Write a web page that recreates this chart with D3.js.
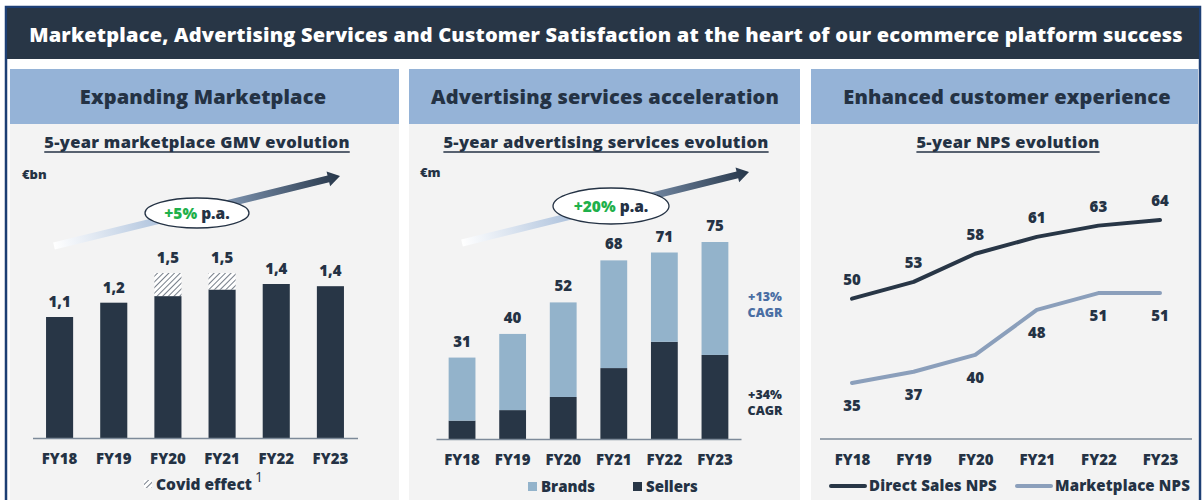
<!DOCTYPE html>
<html>
<head>
<meta charset="utf-8">
<script src="https://cdn.jsdelivr.net/npm/d3@7"></script>
<style>
  body { margin: 0; background: #fff; }
  text { font-family: "Open Sans", sans-serif; font-weight: 800; fill: #243244; }
</style>
</head>
<body>
<div id="chart"></div>
<script>
// data
var years = ["FY18", "FY19", "FY20", "FY21", "FY22", "FY23"];

var gmv = [1.1, 1.23, 1.29, 1.35, 1.40, 1.38];
var covid = [0, 0, 0.21, 0.15, 0, 0];
var gmvLabels = ["1,1", "1,2", "1,5", "1,5", "1,4", "1,4"];

var sellers = [7, 11, 16, 27, 37, 32];
var brands = [24, 29, 36, 41, 34, 43];
var adTotals = [31, 40, 52, 68, 71, 75];

var directNps = [50, 53, 58, 61, 63, 64];
var marketNps = [35, 37, 40, 48, 51, 51];

var navy = "#283646", lightBar = "#93b3cb", header = "#95b3d7", body = "#f3f3f3";

var W = 1203, H = 500;
var svg = d3.select("#chart").append("svg")
    .attr("width", W)
    .attr("height", H);

var defs = svg.append("defs");

// hatch for covid effect
var pat = defs.append("pattern")
    .attr("id", "hatch")
    .attr("patternUnits", "userSpaceOnUse")
    .attr("width", 4).attr("height", 4)
    .attr("patternTransform", "rotate(45)");
pat.append("rect").attr("width", 4).attr("height", 4).attr("fill", "#fff");
pat.append("line").attr("x1", 0).attr("y1", 0).attr("x2", 0).attr("y2", 4)
    .attr("stroke", "#3a4656").attr("stroke-width", 1.4);

// arrow gradient
var grad = defs.append("linearGradient").attr("id", "arrowGrad");
grad.append("stop").attr("offset", "0%").attr("stop-color", "#ffffff");
grad.append("stop").attr("offset", "45%").attr("stop-color", "#9fb7d6");
grad.append("stop").attr("offset", "100%").attr("stop-color", "#27374a");

// outer frame + title bar
svg.append("rect")
    .attr("x", 6).attr("y", 7).attr("width", 1194).attr("height", 500)
    .attr("fill", "#fff").attr("stroke", "#1d3f74").attr("stroke-width", 2.5);
svg.append("rect")
    .attr("x", 7).attr("y", 8).attr("width", 1192).attr("height", 51)
    .attr("fill", navy);
svg.append("text")
    .attr("x", 606).attr("y", 42)
    .attr("text-anchor", "middle")
    .style("fill", "#fff").style("font-size", "20px").style("letter-spacing", "0.2px")
    .text("Marketplace, Advertising Services and Customer Satisfaction at the heart of our ecommerce platform success");

// panels
var panels = [
  {x: 10, w: 389, title: "Expanding Marketplace", sub: "5-year marketplace GMV evolution", cx: 203, scx: 197},
  {x: 409, w: 391, title: "Advertising services acceleration", sub: "5-year advertising services evolution", cx: 605, scx: 606},
  {x: 811, w: 387, title: "Enhanced customer experience", sub: "5-year NPS evolution", cx: 1007, scx: 1008}
];

panels.forEach(function(p) {
  svg.append("rect").attr("x", p.x).attr("y", 124).attr("width", p.w).attr("height", 376).attr("fill", body);
  svg.append("rect").attr("x", p.x).attr("y", 69).attr("width", p.w).attr("height", 55).attr("fill", header);
  svg.append("text")
      .attr("x", p.cx).attr("y", 104)
      .attr("text-anchor", "middle")
      .style("font-size", "20px").style("letter-spacing", "0.15px")
      .text(p.title);
  var st = svg.append("text")
      .attr("x", p.scx).attr("y", 148)
      .attr("text-anchor", "middle")
      .style("font-size", "16.5px").style("letter-spacing", "0.3px")
      .text(p.sub);
  var bb = st.node().getBBox();
  svg.append("line")
      .attr("x1", bb.x).attr("x2", bb.x + bb.width)
      .attr("y1", 152).attr("y2", 152)
      .attr("stroke", "#243244").attr("stroke-width", 1.3);
});

// growth arrow with ellipse badge
function growthArrow(x1, y1, x2, y2, ex, ey, rx, ry, pct) {
  var ang = Math.atan2(y2 - y1, x2 - x1);
  var len = Math.hypot(x2 - x1, y2 - y1);
  var g = svg.append("g")
      .attr("transform", "translate(" + x1 + "," + y1 + ") rotate(" + (ang * 180 / Math.PI) + ")");
  g.append("path")
      .attr("d", "M0,-3.5 L" + (len - 12) + ",-3.5 L" + (len - 12) + ",-7.5 L" + len + ",0 L" +
        (len - 12) + ",7.5 L" + (len - 12) + ",3.5 L0,3.5 Z")
      .attr("fill", "url(#arrowGrad)");
  svg.append("ellipse")
      .attr("cx", ex).attr("cy", ey).attr("rx", rx).attr("ry", ry)
      .attr("fill", "#fff").attr("stroke", "#243244").attr("stroke-width", 1.3);
  var t = svg.append("text")
      .attr("x", ex).attr("y", ey + 5.5)
      .attr("text-anchor", "middle")
      .style("font-size", "15.5px");
  t.append("tspan").style("fill", "#1fb04b").text(pct);
  t.append("tspan").text(" p.a.");
}

// ---------- Panel 1 : GMV ----------
svg.append("text").attr("x", 22).attr("y", 179).style("font-size", "13px").text("€bn");
growthArrow(54, 246, 340, 176, 197, 213, 52, 15, "+5%");

var x1 = d3.scaleBand().domain(years).range([32.5, 357.5]).paddingInner(0.5).paddingOuter(0.25);
var y1 = d3.scaleLinear().domain([0, 1.5]).range([438, 273]);

svg.append("g").selectAll("rect.gmv")
  .data(years)
  .join("rect")
    .attr("x", function(d) { return x1(d); })
    .attr("width", x1.bandwidth())
    .attr("y", function(d, i) { return y1(gmv[i]); })
    .attr("height", function(d, i) { return y1(0) - y1(gmv[i]); })
    .attr("fill", navy);

svg.append("g").selectAll("rect.covid")
  .data(years.filter(function(d, i) { return covid[i] > 0; }))
  .join("rect")
    .attr("x", function(d) { return x1(d); })
    .attr("width", x1.bandwidth())
    .attr("y", function(d) { var i = years.indexOf(d); return y1(gmv[i] + covid[i]); })
    .attr("height", function(d) { var i = years.indexOf(d); return y1(gmv[i]) - y1(gmv[i] + covid[i]); })
    .attr("fill", "url(#hatch)");

svg.append("g").selectAll("text")
  .data(years)
  .join("text")
    .attr("x", function(d) { return x1(d) + x1.bandwidth() / 2; })
    .attr("y", function(d, i) { return y1(gmv[i] + covid[i]) - 10; })
    .attr("text-anchor", "middle")
    .style("font-size", "15px")
    .text(function(d, i) { return gmvLabels[i]; });

var ax1 = svg.append("g")
    .attr("transform", "translate(0,438)")
    .call(d3.axisBottom(x1).tickSize(0).tickPadding(15));
ax1.select(".domain").attr("stroke", "#7d8a99").attr("stroke-width", 1.5);
ax1.selectAll("text").style("font-size", "15px").style("font-family", "Open Sans").style("font-weight", 800).attr("fill", "#243244");

// covid legend
svg.append("rect").attr("x", 144).attr("y", 480).attr("width", 8).attr("height", 8).attr("fill", "url(#hatch)");
svg.append("text").attr("x", 156).attr("y", 490).style("font-size", "15.5px").text("Covid effect");
svg.append("text").attr("x", 255).attr("y", 482).style("font-size", "14px").style("font-weight", 400).text("1");

// ---------- Panel 2 : advertising ----------
svg.append("text").attr("x", 420).attr("y", 177).style("font-size", "13px").text("€m");
growthArrow(462, 243, 749, 172, 611, 206, 58, 18, "+20%");

var x2 = d3.scaleBand().domain(years).range([436, 741]).paddingInner(0.47).paddingOuter(0.25);
var y2 = d3.scaleLinear().domain([0, 75]).range([439, 242]);

var stackData = years.map(function(d, i) { return {year: d, Sellers: sellers[i], Brands: brands[i]}; });
var stacked = d3.stack().keys(["Sellers", "Brands"])(stackData);
var stackColor = {Sellers: navy, Brands: lightBar};

svg.append("g").selectAll("g")
  .data(stacked)
  .join("g")
    .attr("fill", function(s) { return stackColor[s.key]; })
  .selectAll("rect")
  .data(function(s) { return s; })
  .join("rect")
    .attr("x", function(d) { return x2(d.data.year); })
    .attr("width", x2.bandwidth())
    .attr("y", function(d) { return y2(d[1]); })
    .attr("height", function(d) { return y2(d[0]) - y2(d[1]); });

svg.append("g").selectAll("text")
  .data(years)
  .join("text")
    .attr("x", function(d) { return x2(d) + x2.bandwidth() / 2; })
    .attr("y", function(d, i) { return y2(adTotals[i]) - 11; })
    .attr("text-anchor", "middle")
    .style("font-size", "15px")
    .text(function(d, i) { return adTotals[i]; });

var ax2 = svg.append("g")
    .attr("transform", "translate(0,439)")
    .call(d3.axisBottom(x2).tickSize(0).tickPadding(15));
ax2.select(".domain").attr("stroke", "#7d8a99").attr("stroke-width", 1.5);
ax2.selectAll("text").style("font-size", "15px").style("font-family", "Open Sans").style("font-weight", 800).attr("fill", "#243244");

// CAGR notes
[["+13%", 301, "#4a6ea3"], ["CAGR", 317, "#4a6ea3"], ["+34%", 399, "#243244"], ["CAGR", 415, "#243244"]].forEach(function(c) {
  svg.append("text").attr("x", 765).attr("y", c[1]).attr("text-anchor", "middle")
      .style("font-size", "12.5px").style("fill", c[2]).text(c[0]);
});

// legend panel 2
[["Brands", 528, lightBar], ["Sellers", 633, navy]].forEach(function(l) {
  svg.append("rect").attr("x", l[1]).attr("y", 482).attr("width", 9).attr("height", 9).attr("fill", l[2]);
  svg.append("text").attr("x", l[1] + 13).attr("y", 492).style("font-size", "15px").text(l[0]);
});

// ---------- Panel 3 : NPS ----------
var x3 = d3.scalePoint().domain(years).range([852, 1160]);
var y3 = d3.scaleLinear().domain([35, 64]).range([383, 220]);

var line = d3.line()
    .x(function(d, i) { return x3(years[i]); })
    .y(function(d) { return y3(d); });

svg.append("path").datum(directNps)
    .attr("fill", "none").attr("stroke", navy).attr("stroke-width", 4)
    .attr("stroke-linecap", "round").attr("stroke-linejoin", "round")
    .attr("d", line);
svg.append("path").datum(marketNps)
    .attr("fill", "none").attr("stroke", "#8b9fbb").attr("stroke-width", 4)
    .attr("stroke-linecap", "round").attr("stroke-linejoin", "round")
    .attr("d", line);

svg.append("g").selectAll("text")
  .data(directNps)
  .join("text")
    .attr("x", function(d, i) { return x3(years[i]); })
    .attr("y", function(d) { return y3(d) - 14; })
    .attr("text-anchor", "middle")
    .style("font-size", "15px")
    .text(function(d) { return d; });
svg.append("g").selectAll("text")
  .data(marketNps)
  .join("text")
    .attr("x", function(d, i) { return x3(years[i]); })
    .attr("y", function(d) { return y3(d) + 28; })
    .attr("text-anchor", "middle")
    .style("font-size", "15px")
    .text(function(d) { return d; });

var ax3 = svg.append("g")
    .attr("transform", "translate(0,439)")
    .call(d3.axisBottom(x3).tickSize(0).tickPadding(15));
ax3.select(".domain").remove();
svg.append("line").attr("x1", 820).attr("x2", 1192).attr("y1", 439).attr("y2", 439)
    .attr("stroke", "#7d8a99").attr("stroke-width", 1.5);
ax3.selectAll("text").style("font-size", "15px").style("font-family", "Open Sans").style("font-weight", 800).attr("fill", "#243244");

// legend panel 3
[["Direct Sales NPS", 831, navy], ["Marketplace NPS", 1017, "#8b9fbb"]].forEach(function(l) {
  svg.append("line").attr("x1", l[1]).attr("x2", l[1] + 34).attr("y1", 486).attr("y2", 486)
      .attr("stroke", l[2]).attr("stroke-width", 4).attr("stroke-linecap", "round");
  svg.append("text").attr("x", l[1] + 38).attr("y", 491).style("font-size", "15px").style("letter-spacing", "0.15px").text(l[0]);
});
</script>
</body>
</html>
